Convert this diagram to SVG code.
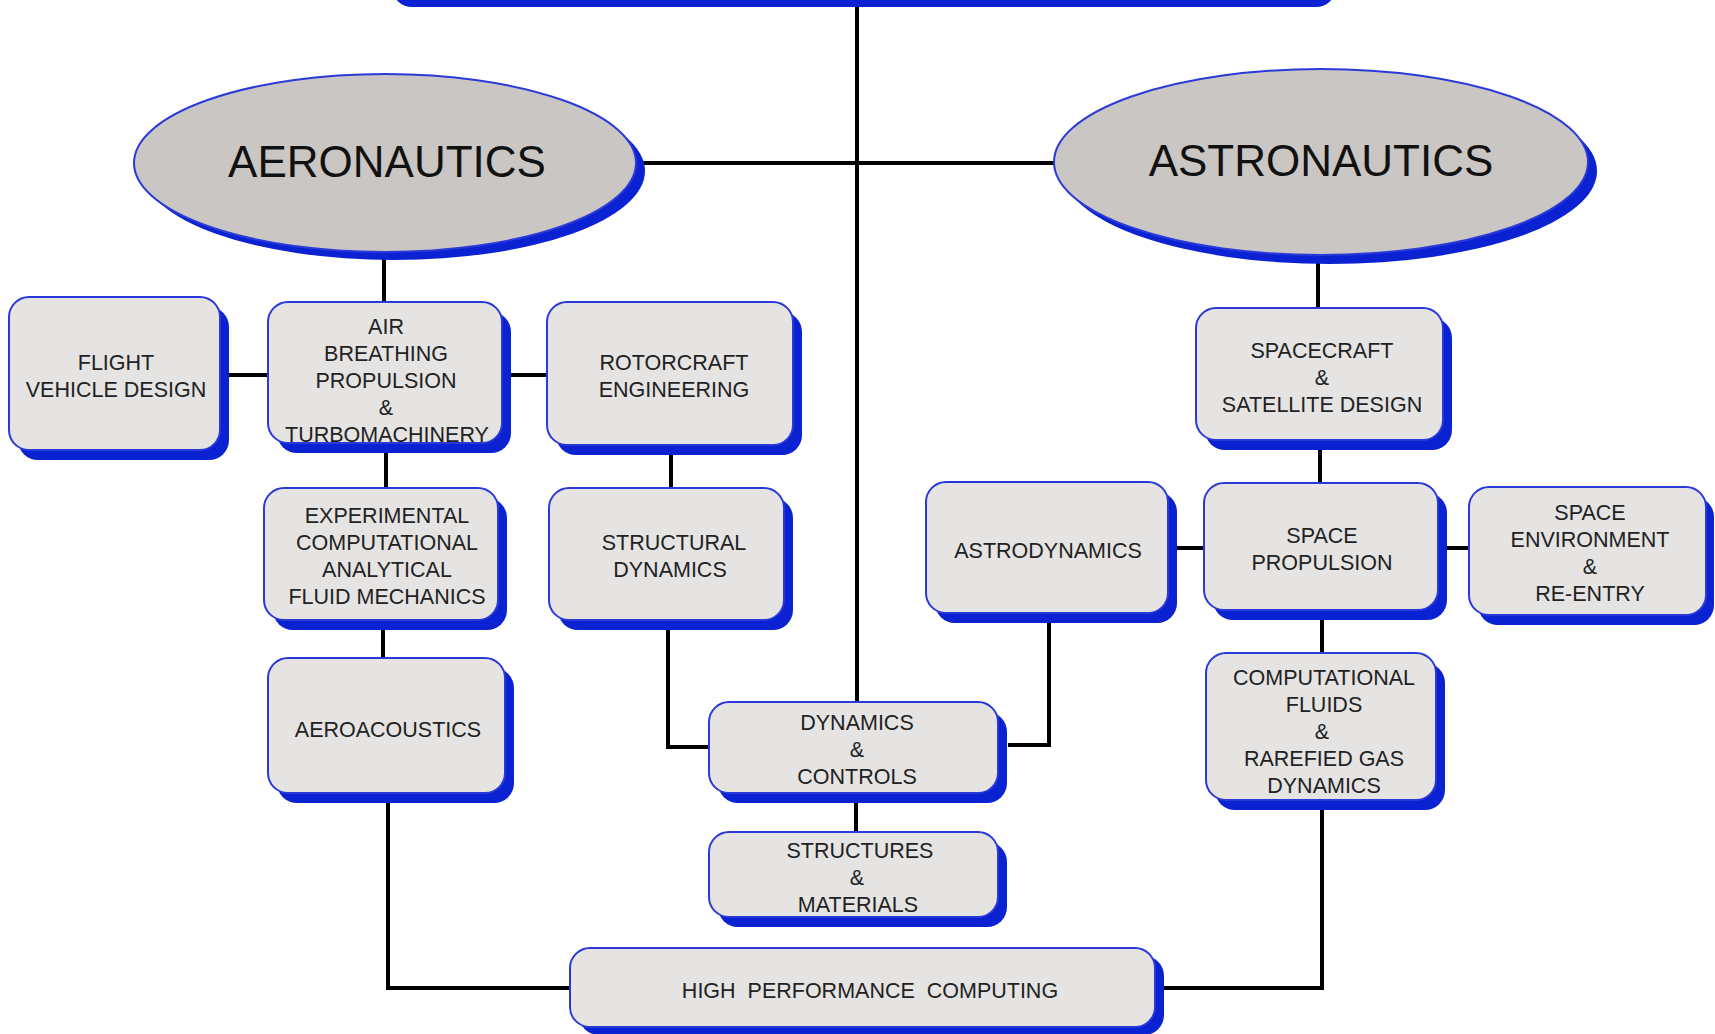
<svg xmlns="http://www.w3.org/2000/svg" width="1715" height="1034" viewBox="0 0 1715 1034">
<style>
.sh{fill:#0a22d2}
.bx{fill:#e5e4e2;stroke:#2a3ad8;stroke-width:2}
.el{fill:#c9c6c4;stroke:#2a3ad8;stroke-width:2}
.t{font-family:"Liberation Sans",Arial,sans-serif;font-size:21.5px;fill:#222;text-anchor:middle}
.big{font-family:"Liberation Sans",Arial,sans-serif;font-size:44px;fill:#111;text-anchor:middle}
.ln{fill:none;stroke:#000;stroke-width:4}
</style>
<rect width="1715" height="1034" fill="#fff"/>
<g id="connectors">
<path class="ln" d="M857 0V702"/>
<path class="ln" d="M636 163H1054"/>
<path class="ln" d="M384 252V302"/>
<path class="ln" d="M229 375H268"/>
<path class="ln" d="M511 375H547"/>
<path class="ln" d="M386 453V488"/>
<path class="ln" d="M671 455V488"/>
<path class="ln" d="M668 630V747H709"/>
<path class="ln" d="M383 630V658"/>
<path class="ln" d="M388 803V988H570"/>
<path class="ln" d="M856 803V832"/>
<path class="ln" d="M1049 622V745H1008"/>
<path class="ln" d="M1318 255V308"/>
<path class="ln" d="M1320 450V483"/>
<path class="ln" d="M1175 548H1204"/>
<path class="ln" d="M1446 548H1469"/>
<path class="ln" d="M1322 620V653"/>
<path class="ln" d="M1322 810V988H1163"/>
</g>
<g id="top-box">
<rect class="sh" x="392" y="-90" width="944" height="97" rx="20"/>
<rect class="bx" x="383" y="-100" width="944" height="97" rx="20"/>
</g>
<g id="aeronautics">
<ellipse class="sh" cx="394" cy="171" rx="251" ry="89"/>
<ellipse class="el" cx="385" cy="163" rx="251" ry="89"/>
<text class="big" x="387" y="177">AERONAUTICS</text>
</g>
<g id="astronautics">
<ellipse class="sh" cx="1330" cy="171" rx="267" ry="93"/>
<ellipse class="el" cx="1321" cy="162" rx="267" ry="93"/>
<text class="big" x="1321" y="176">ASTRONAUTICS</text>
</g>
<g id="flight-vehicle-design">
<rect class="sh" x="18" y="307" width="211" height="153" rx="20"/>
<rect class="bx" x="9" y="297" width="211" height="153" rx="20"/>
<text class="t" x="116" y="370">FLIGHT</text>
<text class="t" x="116" y="397">VEHICLE DESIGN</text>
</g>
<g id="air-breathing">
<rect class="sh" x="277" y="312" width="234" height="141" rx="20"/>
<rect class="bx" x="268" y="302" width="234" height="141" rx="20"/>
<text class="t" x="386" y="334">AIR</text>
<text class="t" x="386" y="361">BREATHING</text>
<text class="t" x="386" y="388">PROPULSION</text>
<text class="t" x="386" y="415">&amp;</text>
<text class="t" x="387" y="442">TURBOMACHINERY</text>
</g>
<g id="rotorcraft">
<rect class="sh" x="556" y="312" width="246" height="143" rx="20"/>
<rect class="bx" x="547" y="302" width="246" height="143" rx="20"/>
<text class="t" x="674" y="370">ROTORCRAFT</text>
<text class="t" x="674" y="397">ENGINEERING</text>
</g>
<g id="fluid-mechanics">
<rect class="sh" x="273" y="498" width="234" height="132" rx="20"/>
<rect class="bx" x="264" y="488" width="234" height="132" rx="20"/>
<text class="t" x="387" y="523">EXPERIMENTAL</text>
<text class="t" x="387" y="550">COMPUTATIONAL</text>
<text class="t" x="387" y="577">ANALYTICAL</text>
<text class="t" x="387" y="604">FLUID MECHANICS</text>
</g>
<g id="structural-dynamics">
<rect class="sh" x="558" y="498" width="235" height="132" rx="20"/>
<rect class="bx" x="549" y="488" width="235" height="132" rx="20"/>
<text class="t" x="674" y="550">STRUCTURAL</text>
<text class="t" x="670" y="577">DYNAMICS</text>
</g>
<g id="aeroacoustics">
<rect class="sh" x="277" y="668" width="237" height="135" rx="20"/>
<rect class="bx" x="268" y="658" width="237" height="135" rx="20"/>
<text class="t" x="388" y="737">AEROACOUSTICS</text>
</g>
<g id="dynamics-controls">
<rect class="sh" x="718" y="712" width="289" height="91" rx="20"/>
<rect class="bx" x="709" y="702" width="289" height="91" rx="20"/>
<text class="t" x="857" y="730">DYNAMICS</text>
<text class="t" x="857" y="757">&amp;</text>
<text class="t" x="857" y="784">CONTROLS</text>
</g>
<g id="structures-materials">
<rect class="sh" x="718" y="842" width="289" height="85" rx="20"/>
<rect class="bx" x="709" y="832" width="289" height="85" rx="20"/>
<text class="t" x="860" y="858">STRUCTURES</text>
<text class="t" x="857" y="885">&amp;</text>
<text class="t" x="858" y="912">MATERIALS</text>
</g>
<g id="high-performance-computing">
<rect class="sh" x="579" y="956" width="585" height="79" rx="20"/>
<rect class="bx" x="570" y="948" width="585" height="79" rx="20"/>
<text class="t" x="870" y="998" xml:space="preserve">HIGH  PERFORMANCE  COMPUTING</text>
</g>
<g id="spacecraft">
<rect class="sh" x="1205" y="318" width="247" height="132" rx="20"/>
<rect class="bx" x="1196" y="308" width="247" height="132" rx="20"/>
<text class="t" x="1322" y="358">SPACECRAFT</text>
<text class="t" x="1322" y="385">&amp;</text>
<text class="t" x="1322" y="412">SATELLITE DESIGN</text>
</g>
<g id="astrodynamics">
<rect class="sh" x="935" y="492" width="242" height="131" rx="20"/>
<rect class="bx" x="926" y="482" width="242" height="131" rx="20"/>
<text class="t" x="1048" y="558">ASTRODYNAMICS</text>
</g>
<g id="space-propulsion">
<rect class="sh" x="1213" y="493" width="234" height="127" rx="20"/>
<rect class="bx" x="1204" y="483" width="234" height="127" rx="20"/>
<text class="t" x="1322" y="543">SPACE</text>
<text class="t" x="1322" y="570">PROPULSION</text>
</g>
<g id="space-environment">
<rect class="sh" x="1478" y="497" width="236" height="128" rx="20"/>
<rect class="bx" x="1469" y="487" width="237" height="128" rx="20"/>
<text class="t" x="1590" y="520">SPACE</text>
<text class="t" x="1590" y="547">ENVIRONMENT</text>
<text class="t" x="1590" y="574">&amp;</text>
<text class="t" x="1590" y="601">RE-ENTRY</text>
</g>
<g id="computational-fluids">
<rect class="sh" x="1215" y="663" width="230" height="147" rx="20"/>
<rect class="bx" x="1206" y="653" width="230" height="147" rx="20"/>
<text class="t" x="1324" y="685">COMPUTATIONAL</text>
<text class="t" x="1324" y="712">FLUIDS</text>
<text class="t" x="1322" y="739">&amp;</text>
<text class="t" x="1324" y="766">RAREFIED GAS</text>
<text class="t" x="1324" y="793">DYNAMICS</text>
</g>
</svg>
